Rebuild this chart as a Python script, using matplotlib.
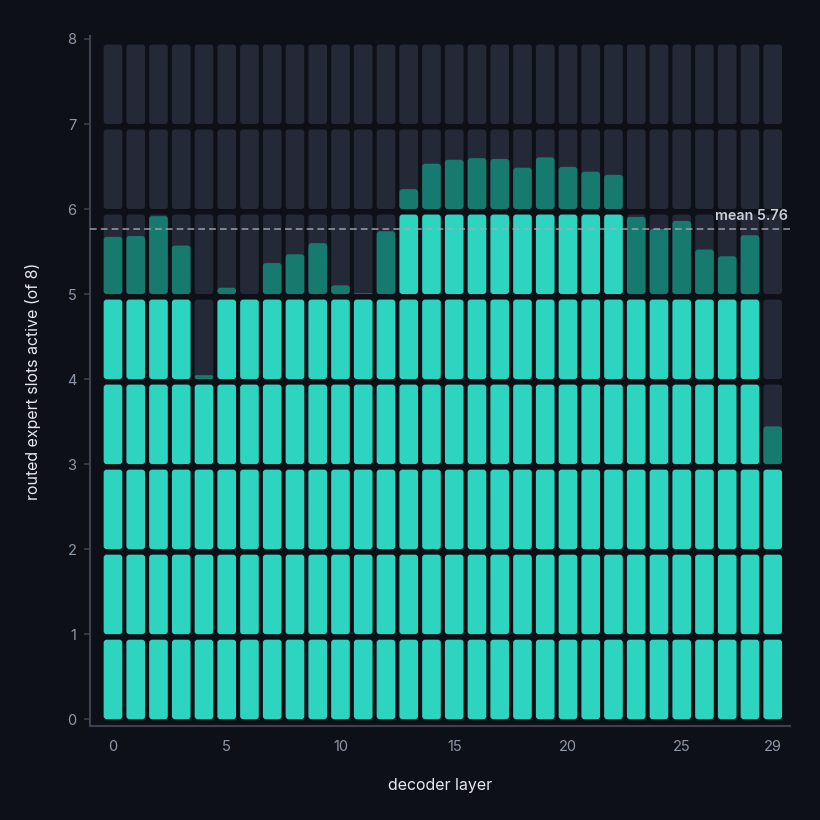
import numpy as np
import matplotlib
matplotlib.use("Agg")
import matplotlib.pyplot as plt
from matplotlib.patches import FancyBboxPatch

plt.rcParams['font.family'] = ['Inter', 'DejaVu Sans']

layers = list(range(30))
active_slots = [5.72, 5.73, 5.98, 5.61, 4.05, 5.08, 5.00, 5.39, 5.50, 5.64,
                5.11, 5.01, 5.79, 6.25, 6.57, 6.62, 6.64, 6.63, 6.52, 6.65,
                6.53, 6.47, 6.43, 5.97, 5.82, 5.92, 5.56, 5.475, 5.74, 3.475]
n_slots = 8
x_ticks = [0, 5, 10, 15, 20, 25, 29]
y_ticks = list(range(0, 9))

BG = '#0d1017'
EMPTY = '#232937'
FULL = '#2dd4bf'
PART = '#177a6e'
SPINE = '#3b4150'
TICK = '#8f98a8'
LABEL = '#e6e8ec'

fig = plt.figure(figsize=(8.2001, 8.2001), dpi=100, facecolor=BG)
ax = fig.add_axes([90/820, 94/820, 700/820, 690/820])
ax.set_facecolor(BG)

xlim = (-1.01, 29.76)
ylim = (-0.08, 8.035)
ax.set_xlim(*xlim)
ax.set_ylim(*ylim)

# pixel scale for equal rounding
px_x = 700 / (xlim[1] - xlim[0])
px_y = 690 / (ylim[1] - ylim[0])
aspect = px_x / px_y

bw = 0.82
sh = 0.935
rnd = 3.0 / px_x

def slot(x, y0, h, color):
    p = FancyBboxPatch((x - bw/2, y0), bw, h,
                       boxstyle=f"round,pad=0,rounding_size={min(rnd, h/aspect/2):.5f}",
                       mutation_aspect=aspect, facecolor=color, edgecolor='none', zorder=2)
    ax.add_patch(p)

for x, v in zip(layers, active_slots):
    for k in range(n_slots):
        if v >= k + 1:
            slot(x, k, sh, FULL)
        else:
            slot(x, k, sh, EMPTY)
            frac = v - k
            if frac > 0:
                slot(x, k, sh * frac, PART)

mean_v = float(np.mean(active_slots))
ax.axhline(mean_v, color='#a4a9b3', lw=1.2, dashes=(4, 2.5), alpha=0.85, zorder=3)
ax.text(xlim[1] - 0.1, mean_v + 0.07, f"mean {mean_v:.2f}", ha='right', va='bottom',
        color='#c9ced6', fontsize=10.3, fontweight='semibold', zorder=4)

for s in ['top', 'right']:
    ax.spines[s].set_visible(False)
for s in ['left', 'bottom']:
    ax.spines[s].set_color(SPINE)
    ax.spines[s].set_linewidth(1.5)

ax.set_xticks(x_ticks)
ax.set_yticks(y_ticks)
ax.tick_params(axis='x', length=0, pad=10, colors=TICK, labelsize=10.5)
ax.tick_params(axis='y', length=4.3, width=1.2, pad=5.5, colors=SPINE, labelcolor=TICK, labelsize=10.5)

ax.set_xlabel('decoder layer', color=LABEL, fontsize=11.5, labelpad=17)
ax.set_ylabel('routed expert slots active (of 8)', color=LABEL, fontsize=11.5, labelpad=19)

fig.savefig('out.png', dpi=100, facecolor=BG)
